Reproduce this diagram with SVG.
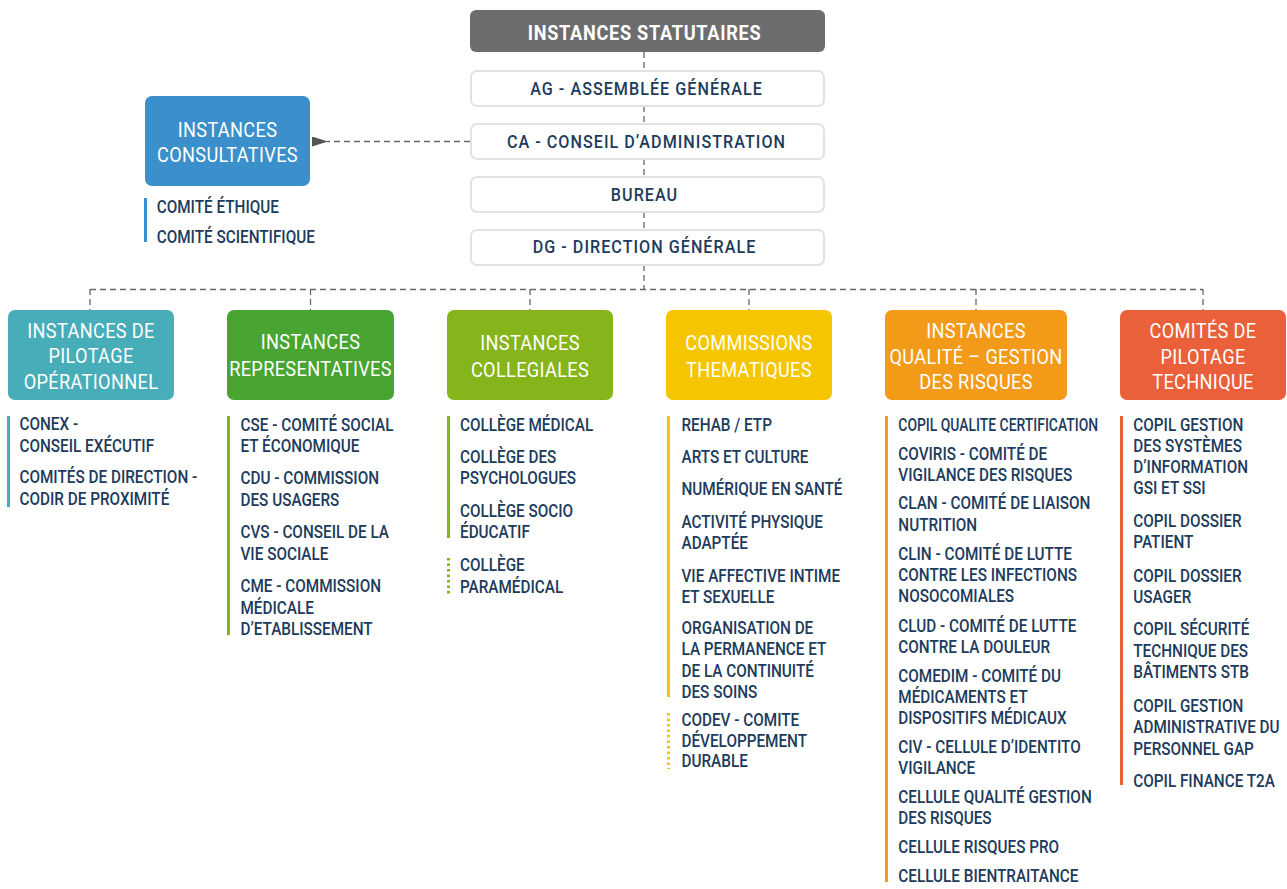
<svg xmlns="http://www.w3.org/2000/svg" width="1287" height="889" viewBox="0 0 1287 889">
<style>
text{font-family:Roboto,"Liberation Sans",sans-serif}
.li{font-size:18px;fill:#1d3b5c;font-weight:500}
.tt{font-size:21px;fill:#ffffff;text-anchor:middle;letter-spacing:0.4px}
.wb{font-size:19px;fill:#1d3b5c;text-anchor:middle;letter-spacing:1.2px;font-weight:500}
.hd{font-size:21px;fill:#ffffff;text-anchor:middle;font-weight:bold;letter-spacing:0.8px}
.wbox{fill:#ffffff;stroke:#e2e2e2;stroke-width:2}
.dash{fill:none;stroke:#666666;stroke-width:1.3;stroke-dasharray:6 4}
</style>
<defs>
<marker id="arr" viewBox="0 0 16 10" refX="1" refY="5" markerWidth="16" markerHeight="10" markerUnits="userSpaceOnUse" orient="auto">
<path d="M0,5 L16,0 L16,10 Z" fill="#555555"/>
</marker>
</defs>

<g id="connectors">
<line class="dash" x1="644" y1="52" x2="644" y2="70"/>
<line class="dash" x1="644" y1="106" x2="644" y2="123"/>
<line class="dash" x1="644" y1="159" x2="644" y2="176"/>
<line class="dash" x1="644" y1="212" x2="644" y2="229"/>
<line class="dash" x1="644" y1="265" x2="644" y2="289"/>
<line class="dash" x1="90" y1="289.5" x2="1203" y2="289.5"/>
<line class="dash" x1="90" y1="289" x2="90" y2="310"/>
<line class="dash" x1="310.5" y1="289" x2="310.5" y2="310"/>
<line class="dash" x1="530" y1="289" x2="530" y2="310"/>
<line class="dash" x1="749" y1="289" x2="749" y2="310"/>
<line class="dash" x1="976" y1="289" x2="976" y2="310"/>
<line class="dash" x1="1203" y1="289" x2="1203" y2="310"/>
<line class="dash" x1="470" y1="141.5" x2="327" y2="141.5" marker-end="url(#arr)"/>
</g>

<g id="statutaires">
<rect x="470" y="10" width="355" height="42" rx="6" fill="#6d6d6f"/>
<text class="hd" transform="translate(644.5 40) scale(0.865 1)">INSTANCES STATUTAIRES</text>
</g>
<g id="ag">
<rect class="wbox" x="471" y="71" width="353" height="35" rx="6"/>
<text class="wb" transform="translate(646.5 95) scale(0.85 1)">AG - ASSEMBLÉE GÉNÉRALE</text>
</g>
<g id="ca">
<rect class="wbox" x="471" y="124" width="353" height="35" rx="6"/>
<text class="wb" transform="translate(646.5 148.3) scale(0.85 1)">CA - CONSEIL D’ADMINISTRATION</text>
</g>
<g id="bureau">
<rect class="wbox" x="471" y="177" width="353" height="35" rx="6"/>
<text class="wb" transform="translate(644.5 201) scale(0.85 1)">BUREAU</text>
</g>
<g id="dg">
<rect class="wbox" x="471" y="230" width="353" height="35" rx="6"/>
<text class="wb" transform="translate(644.5 253.3) scale(0.85 1)">DG - DIRECTION GÉNÉRALE</text>
</g>

<g id="consultatives">
<rect x="145" y="96" width="165" height="90" rx="7" fill="#3b8fca"/>
<g transform="translate(227.5 0) scale(0.865 1)">
<text class="tt" y="137">INSTANCES</text>
<text class="tt" y="162">CONSULTATIVES</text>
</g>
<rect x="144" y="198" width="3" height="44" fill="#3b8fca"/>
<g transform="translate(156.7 0) scale(0.85 1)">
<text class="li" y="213">COMITÉ ÉTHIQUE</text>
<text class="li" y="243">COMITÉ SCIENTIFIQUE</text>
</g>
</g>

<g id="pilotage-operationnel">
<rect x="8" y="310" width="166" height="90" rx="7" fill="#47adb9"/>
<g transform="translate(91 0) scale(0.865 1)">
<text class="tt" y="338">INSTANCES DE</text>
<text class="tt" y="363.5">PILOTAGE</text>
<text class="tt" y="389">OPÉRATIONNEL</text>
</g>
<rect x="7" y="416" width="3" height="91" fill="#47adb9"/>
<g transform="translate(19.5 0) scale(0.85 1)">
<text class="li" y="430.5">CONEX -</text>
<text class="li" y="452">CONSEIL EXÉCUTIF</text>
<text class="li" y="483.5">COMITÉS DE DIRECTION -</text>
<text class="li" y="505.5">CODIR DE PROXIMITÉ</text>
</g>
</g>

<g id="representatives">
<rect x="227" y="310" width="167" height="90" rx="7" fill="#48a532"/>
<g transform="translate(310.5 0) scale(0.865 1)">
<text class="tt" y="349.5">INSTANCES</text>
<text class="tt" y="376.5">REPRESENTATIVES</text>
</g>
<rect x="227" y="416" width="3" height="219" fill="#86b51b"/>
<g transform="translate(240.5 0) scale(0.85 1)">
<text class="li" y="430.7">CSE - COMITÉ SOCIAL</text>
<text class="li" y="452.5">ET ÉCONOMIQUE</text>
<text class="li" y="484">CDU - COMMISSION</text>
<text class="li" y="506">DES USAGERS</text>
<text class="li" y="538">CVS - CONSEIL DE LA</text>
<text class="li" y="560">VIE SOCIALE</text>
<text class="li" y="592.5">CME - COMMISSION</text>
<text class="li" y="614">MÉDICALE</text>
<text class="li" y="635">D’ETABLISSEMENT</text>
</g>
</g>

<g id="collegiales">
<rect x="447" y="310" width="166" height="90" rx="7" fill="#86b51b"/>
<g transform="translate(530 0) scale(0.865 1)">
<text class="tt" y="350">INSTANCES</text>
<text class="tt" y="376.7">COLLEGIALES</text>
</g>
<rect x="447" y="416" width="3" height="122" fill="#86b51b"/>
<line x1="448.5" y1="558" x2="448.5" y2="594" stroke="#86b51b" stroke-width="3" stroke-dasharray="2.5 3"/>
<g transform="translate(460 0) scale(0.85 1)">
<text class="li" y="430.7">COLLÈGE MÉDICAL</text>
<text class="li" y="462.7">COLLÈGE DES</text>
<text class="li" y="484.3">PSYCHOLOGUES</text>
<text class="li" y="516.7">COLLÈGE SOCIO</text>
<text class="li" y="538.3">ÉDUCATIF</text>
<text class="li" y="570.7">COLLÈGE</text>
<text class="li" y="592.7">PARAMÉDICAL</text>
</g>
</g>

<g id="thematiques">
<rect x="666" y="310" width="166" height="90" rx="7" fill="#f5c600"/>
<g transform="translate(749 0) scale(0.865 1)">
<text class="tt" y="350">COMMISSIONS</text>
<text class="tt" y="376.7">THEMATIQUES</text>
</g>
<rect x="667" y="416" width="3" height="281" fill="#f5c600"/>
<line x1="668.5" y1="713" x2="668.5" y2="769" stroke="#f5c600" stroke-width="3" stroke-dasharray="2.5 3"/>
<g transform="translate(681.5 0) scale(0.85 1)">
<text class="li" y="430.7">REHAB / ETP</text>
<text class="li" y="462.7">ARTS ET CULTURE</text>
<text class="li" y="495">NUMÉRIQUE EN SANTÉ</text>
<text class="li" y="527.7">ACTIVITÉ PHYSIQUE</text>
<text class="li" y="549.3">ADAPTÉE</text>
<text class="li" y="581.7">VIE AFFECTIVE INTIME</text>
<text class="li" y="603.3">ET SEXUELLE</text>
<text class="li" y="634">ORGANISATION DE</text>
<text class="li" y="655.5">LA PERMANENCE ET</text>
<text class="li" y="677">DE LA CONTINUITÉ</text>
<text class="li" y="698">DES SOINS</text>
<text class="li" y="726">CODEV - COMITE</text>
<text class="li" y="747">DÉVELOPPEMENT</text>
<text class="li" y="767.5">DURABLE</text>
</g>
</g>

<g id="qualite">
<rect x="885" y="310" width="182" height="90" rx="7" fill="#f39a18"/>
<g transform="translate(976 0) scale(0.865 1)">
<text class="tt" y="338">INSTANCES</text>
<text class="tt" y="364">QUALITÉ – GESTION</text>
<text class="tt" y="389">DES RISQUES</text>
</g>
<rect x="885" y="416" width="3" height="466" fill="#f39a18"/>
<g transform="translate(898.3 0) scale(0.85 1)">
<text class="li" y="430.7" transform="scale(0.91 1)">COPIL QUALITE CERTIFICATION</text>
<text class="li" y="460">COVIRIS - COMITÉ DE</text>
<text class="li" y="481">VIGILANCE DES RISQUES</text>
<text class="li" y="509.3">CLAN - COMITÉ DE LIAISON</text>
<text class="li" y="530.7">NUTRITION</text>
<text class="li" y="560">CLIN - COMITÉ DE LUTTE</text>
<text class="li" y="580.7">CONTRE LES INFECTIONS</text>
<text class="li" y="601.7">NOSOCOMIALES</text>
<text class="li" y="631.7">CLUD - COMITÉ DE LUTTE</text>
<text class="li" y="653">CONTRE LA DOULEUR</text>
<text class="li" y="681.7">COMEDIM - COMITÉ DU</text>
<text class="li" y="702.7">MÉDICAMENTS ET</text>
<text class="li" y="724">DISPOSITIFS MÉDICAUX</text>
<text class="li" y="753.3">CIV - CELLULE D’IDENTITO</text>
<text class="li" y="774">VIGILANCE</text>
<text class="li" y="803.3">CELLULE QUALITÉ GESTION</text>
<text class="li" y="824">DES RISQUES</text>
<text class="li" y="853.3">CELLULE RISQUES PRO</text>
<text class="li" y="881.7">CELLULE BIENTRAITANCE</text>
</g>
</g>

<g id="pilotage-technique">
<rect x="1120" y="310" width="166" height="90" rx="7" fill="#e9603a"/>
<g transform="translate(1203 0) scale(0.865 1)">
<text class="tt" y="338">COMITÉS DE</text>
<text class="tt" y="364">PILOTAGE</text>
<text class="tt" y="389">TECHNIQUE</text>
</g>
<rect x="1120" y="416" width="3" height="369" fill="#e9603a"/>
<g transform="translate(1133.3 0) scale(0.85 1)">
<text class="li" y="430.7">COPIL GESTION</text>
<text class="li" y="451.7">DES SYSTÈMES</text>
<text class="li" y="473">D’INFORMATION</text>
<text class="li" y="494">GSI ET SSI</text>
<text class="li" y="527.3">COPIL DOSSIER</text>
<text class="li" y="548.3">PATIENT</text>
<text class="li" y="581.7">COPIL DOSSIER</text>
<text class="li" y="603">USAGER</text>
<text class="li" y="635">COPIL SÉCURITÉ</text>
<text class="li" y="656.7">TECHNIQUE DES</text>
<text class="li" y="678">BÂTIMENTS STB</text>
<text class="li" y="711.7">COPIL GESTION</text>
<text class="li" y="733.3">ADMINISTRATIVE DU</text>
<text class="li" y="755">PERSONNEL GAP</text>
<text class="li" y="786.7">COPIL FINANCE T2A</text>
</g>
</g>
</svg>
